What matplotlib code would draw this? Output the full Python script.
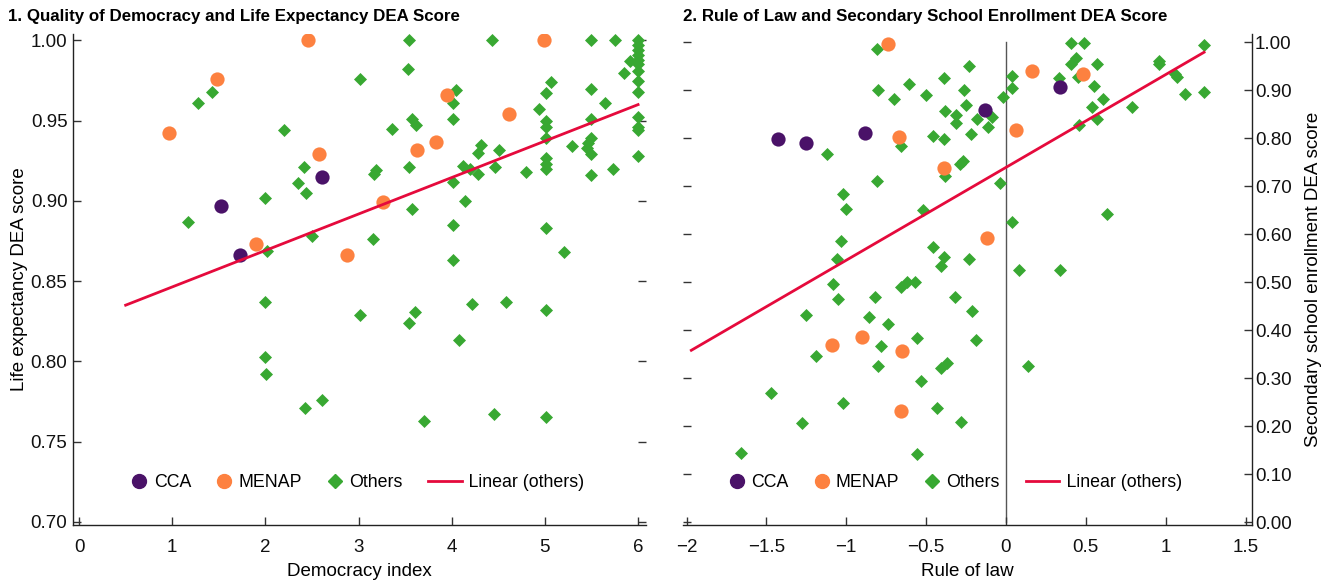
""" DEA scores against democracy and rule of law """

import matplotlib
matplotlib.use('Agg')
import matplotlib.pyplot as plt
import numpy as np
from matplotlib.legend_handler import HandlerLine2D
from matplotlib.lines import Line2D

DPI = 100
FONT = ['Liberation Sans Narrow', 'Liberation Sans', 'DejaVu Sans']
plt.rcParams['font.family'] = FONT
plt.rcParams['axes.unicode_minus'] = True

PURPLE = '#4a1268'
ORANGE = '#fd8140'
GREEN = '#38a832'
RED = '#e50a3c'

# panel 1: democracy index vs life expectancy DEA score
cca_dem_x = [1.52, 1.73, 2.61]
cca_dem_y = [0.897, 0.866, 0.915]
menap_dem_x = [0.96, 1.48, 2.46, 2.57, 1.90, 2.88, 3.26, 3.63, 3.83, 3.95, 4.61, 4.99]
menap_dem_y = [0.942, 0.976, 1.000, 0.929, 0.873, 0.866, 0.899, 0.932, 0.937, 0.966, 0.954, 1.000]
oth_dem_x = [1.17, 1.28, 1.43, 2.00, 2.02, 2.20, 2.35, 2.41, 2.44, 2.50, 3.01, 3.54, 4.43, 5.50, 5.75,
             6.0, 6.0, 6.0, 6.0, 6.0, 6.0, 6.0, 6.0, 6.0, 6.0, 6.0, 6.0, 6.0,
             5.91, 5.85, 3.53, 5.06, 5.01, 4.05, 4.01, 5.50, 5.64, 4.94, 4.01, 5.01, 5.01, 5.50,
             3.57, 3.62, 3.36, 4.31, 4.28, 4.51, 5.01, 5.01, 5.01, 5.01, 5.29, 5.46, 5.50, 5.45,
             5.50, 3.54, 3.17, 3.19, 4.12, 4.20, 4.28, 4.46, 4.80, 5.73, 5.50, 4.01, 3.57, 4.14,
             4.01, 5.01, 3.16, 5.21, 4.01, 2.00, 3.01, 2.00, 2.01, 2.42, 2.61, 3.54, 3.61, 4.22,
             4.58, 5.01, 4.08, 3.70, 4.45, 5.01]
oth_dem_y = [0.887, 0.961, 0.968, 0.902, 0.869, 0.944, 0.911, 0.921, 0.905, 0.878, 0.976, 1.000, 1.000, 1.000, 1.000,
             1.000, 0.997, 0.994, 0.991, 0.988, 0.985, 0.981, 0.975, 0.968, 0.952, 0.946, 0.944, 0.928,
             0.987, 0.980, 0.982, 0.974, 0.967, 0.969, 0.961, 0.970, 0.961, 0.957, 0.951, 0.950, 0.946, 0.951,
             0.951, 0.947, 0.945, 0.935, 0.930, 0.932, 0.939, 0.927, 0.923, 0.920, 0.934, 0.936, 0.939, 0.933,
             0.929, 0.921, 0.917, 0.919, 0.922, 0.920, 0.917, 0.921, 0.918, 0.920, 0.916, 0.912, 0.895, 0.900,
             0.885, 0.883, 0.876, 0.868, 0.863, 0.837, 0.829, 0.803, 0.792, 0.771, 0.776, 0.824, 0.831, 0.836,
             0.837, 0.832, 0.813, 0.763, 0.767, 0.765]
fit_dem_x = [0.5, 6.0]
fit_dem_y = [0.835, 0.960]

# panel 2: rule of law vs secondary school enrollment DEA score
cca_law_x = [-1.43, -1.25, -0.88, -0.13, 0.34]
cca_law_y = [0.798, 0.790, 0.810, 0.858, 0.907]
menap_law_x = [-0.74, -0.67, -0.39, -0.12, 0.16, 0.06, 0.48, -0.90, -1.09, -0.65, -0.66]
menap_law_y = [0.996, 0.802, 0.738, 0.592, 0.940, 0.818, 0.933, 0.386, 0.369, 0.357, 0.231]
oth_law_x = [-0.81, -0.23, -0.39, -0.61, -0.80, -0.26, -0.50, -0.70, -0.02, -0.25, -0.38, -0.31, -0.18,
             -0.09, -0.31, -0.11, -0.46, -0.39, -0.22, -0.66, -1.12, -0.29, -0.27, -0.38, -0.81, -0.04,
             -1.02, -1.00, -0.52, -1.03, -0.46, -0.39, -1.06, -0.23, -0.41, -1.08, -0.66, -0.62, -0.57,
             0.41, 0.49, 1.24, 0.44, 0.41, 0.57, 0.96, 0.96, 0.04, 0.33, 0.45, 1.06, 1.07, 0.04, 0.55,
             1.12, 1.24, 0.61, 0.54, 0.79, 0.57, 0.46, 0.63, 0.04, 0.08, 0.34,
             -1.05, -0.82, -0.32, -0.21, -1.25, -0.86, -0.74, -0.56, -0.78, -0.19, -1.19, -0.80, -0.41,
             -0.37, -0.53, -1.47, -1.02, -0.43, -1.28, -0.28, -1.66, -0.56, 0.14]
oth_law_y = [0.985, 0.950, 0.926, 0.913, 0.900, 0.900, 0.889, 0.881, 0.885, 0.869, 0.857, 0.849, 0.840,
             0.844, 0.832, 0.824, 0.804, 0.799, 0.808, 0.783, 0.767, 0.747, 0.752, 0.721, 0.710, 0.707,
             0.683, 0.653, 0.650, 0.586, 0.574, 0.553, 0.549, 0.549, 0.533, 0.497, 0.490, 0.501, 0.501,
             0.999, 0.999, 0.994, 0.966, 0.954, 0.954, 0.961, 0.954, 0.930, 0.926, 0.928, 0.933, 0.928, 0.905, 0.909,
             0.893, 0.897, 0.881, 0.864, 0.864, 0.839, 0.827, 0.642, 0.626, 0.525, 0.525,
             0.464, 0.468, 0.468, 0.440, 0.431, 0.428, 0.412, 0.383, 0.367, 0.379, 0.346, 0.326, 0.322,
             0.331, 0.294, 0.269, 0.249, 0.238, 0.206, 0.209, 0.145, 0.141, 0.326]
fit_law_x = [-1.97, 1.24]
fit_law_y = [0.358, 0.979]

dem_ticks = [0, 1, 2, 3, 4, 5, 6]
life_ticks = [0.70, 0.75, 0.80, 0.85, 0.90, 0.95, 1.00]
law_ticks = [-2, -1.5, -1, -0.5, 0, 0.5, 1, 1.5]
law_labels = ['\u22122', '\u22121.5', '\u22121', '\u22120.5', '0', '0.5', '1', '1.5']
school_ticks = [0.0, 0.1, 0.2, 0.3, 0.4, 0.5, 0.6, 0.7, 0.8, 0.9, 1.0]
legend_labels = ['CCA', 'MENAP', 'Others', '    Linear (others)']

FS = 13.5
LEG_FS = 12.8


class _LongLine(HandlerLine2D):
    """ Legend line that runs past its handle box, Excel style """

    def __init__(self, extra, **kw):
        super().__init__(**kw)
        self.extra = extra

    def get_xdata(self, legend, xdescent, ydescent, width, height, fontsize):
        xdata, xmark = super().get_xdata(legend, xdescent, ydescent, width, height, fontsize)
        return np.array([xdata[0], xdata[-1] + self.extra]), xmark


def _points(axes, groups, fit_x, fit_y):
    """ Draw the three groups and the fitted line """
    (ox, oy), (mx, my), (cx, cy) = groups
    axes.scatter(ox, oy, marker='D', s=44, color=GREEN, linewidths=0, zorder=2)
    axes.scatter(mx, my, marker='o', s=105, color=ORANGE, linewidths=0, zorder=3)
    axes.scatter(cx, cy, marker='o', s=105, color=PURPLE, linewidths=0, zorder=4)
    axes.plot(fit_x, fit_y, color=RED, linewidth=2, zorder=5)


def _legend(axes, anchor):
    line = Line2D([], [], color=RED, linewidth=2)
    handles = [
        Line2D([], [], marker='o', color=PURPLE, linestyle='none', markersize=10),
        Line2D([], [], marker='o', color=ORANGE, linestyle='none', markersize=10),
        Line2D([], [], marker='D', color=GREEN, linestyle='none', markersize=7),
        line,
    ]
    axes.legend(handles, legend_labels, handler_map={line: _LongLine(14.0)},
                loc='center', bbox_to_anchor=anchor, ncol=4, frameon=False,
                fontsize=LEG_FS, handlelength=0.8, handletextpad=0.4,
                columnspacing=1.45, borderaxespad=0)


def _style(axes):
    for side in ('top', 'right', 'left', 'bottom'):
        axes.spines[side].set_color('#222222')
        axes.spines[side].set_linewidth(1.0)
    axes.tick_params(direction='in', length=6, width=1, color='#333333',
                     labelsize=FS, labelcolor='#111111')
    axes.tick_params(axis='x', pad=10)


fig = plt.figure(figsize=(1331 / DPI, 584 / DPI), dpi=DPI)

# panel 1
ax1 = fig.add_axes([73 / 1331, 59 / 584, 573 / 1331, 491 / 584])
_points(ax1, ((oth_dem_x, oth_dem_y), (menap_dem_x, menap_dem_y), (cca_dem_x, cca_dem_y)),
        fit_dem_x, fit_dem_y)
ax1.set_xlim(-0.065, 6.085)
ax1.set_ylim(0.698, 1.004)
ax1.set_xticks(dem_ticks)
ax1.set_yticks(life_ticks)
ax1.set_yticklabels([f'{v:.2f}' for v in life_ticks])
ax1.spines['top'].set_visible(False)
ax1.spines['right'].set_visible(False)
_style(ax1)
ax1.tick_params(axis='y', right=True, labelright=False, pad=4)
ax1.set_xlabel('Democracy index', fontsize=FS, labelpad=5)
ax1.set_ylabel('Life expectancy DEA score', fontsize=FS, labelpad=2)
_legend(ax1, (0.498, 0.086))

# panel 2
ax2 = fig.add_axes([683 / 1331, 59 / 584, 569 / 1331, 491 / 584])
_points(ax2, ((oth_law_x, oth_law_y), (menap_law_x, menap_law_y), (cca_law_x, cca_law_y)),
        fit_law_x, fit_law_y)
ax2.plot([0, 0], [0, 1], color='#555555', linewidth=1, zorder=1)
ax2.set_xlim(-2.022, 1.54)
ax2.set_ylim(-0.006, 1.017)
ax2.set_xticks(law_ticks)
ax2.set_xticklabels(law_labels)
ax2.set_yticks(school_ticks)
ax2.set_yticklabels([f'{v:.2f}' for v in school_ticks])
ax2.spines['top'].set_visible(False)
ax2.spines['left'].set_visible(False)
_style(ax2)
ax2.yaxis.tick_right()
ax2.yaxis.set_label_position('right')
ax2.tick_params(axis='y', left=True, right=True, labelleft=False, labelright=True, pad=2)
ax2.set_xlabel('Rule of law', fontsize=FS, labelpad=5)
ax2.set_ylabel('Secondary school enrollment DEA score', fontsize=FS, labelpad=10)
_legend(ax2, (0.48, 0.086))

fig.text(8 / 1331, 1 - 17 / 584, '1. Quality of Democracy and Life Expectancy DEA Score',
         fontsize=12.2, fontweight='bold', va='center', ha='left')
fig.text(683 / 1331, 1 - 17 / 584, '2. Rule of Law and Secondary School Enrollment DEA Score',
         fontsize=12.2, fontweight='bold', va='center', ha='left')

fig.savefig('out.png', dpi=DPI)
